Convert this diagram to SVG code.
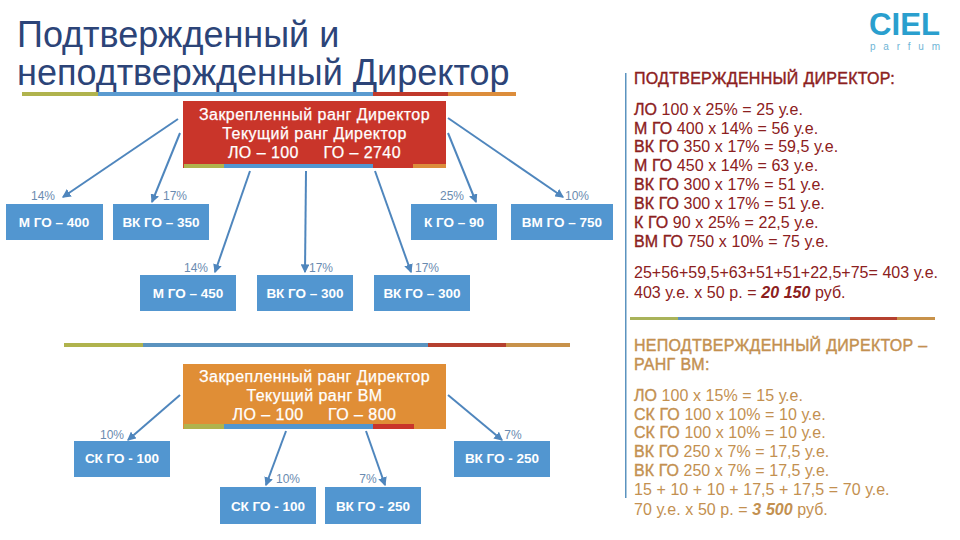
<svg xmlns="http://www.w3.org/2000/svg" width="960" height="540" viewBox="0 0 960 540">
<defs>
<marker id="ah" markerWidth="4.4" markerHeight="4.4" refX="3.8" refY="2.2" orient="auto" markerUnits="strokeWidth"><path d="M0 0L4.4 2.2L0 4.4Z" fill="#4f86bd"/></marker>
</defs>
<style>
text{font-family:"Liberation Sans",Arial,sans-serif}
.title{font-size:36px;fill:#2c4478}
.nb{fill:#5296d0}
.nt{font-size:13.5px;font-weight:bold;fill:#fff;text-anchor:middle}
.ht{font-size:16px;fill:#fff;text-anchor:middle;letter-spacing:.45px;stroke:#fff;stroke-width:.25px}
.p{font-size:12px;fill:#6a8bb0;text-anchor:middle}
.c line{stroke:#4f86bd;stroke-width:2;marker-end:url(#ah)}
.r{font-size:16px;fill:#8c2020;word-spacing:.2px}
.o{font-size:16px;fill:#c39050;word-spacing:.2px}
.h{letter-spacing:.25px;stroke-width:.4px}
.r.h{stroke:#8c2020}
.o.h{stroke:#c39050}
.r .b{stroke:#8c2020;stroke-width:.35px}
.o .b{stroke:#c39050;stroke-width:.35px}
</style>
<rect width="960" height="540" fill="#fff"/>
<g id="title">
<text class="title" x="17" y="47">Подтвержденный и</text>
<text class="title" x="17" y="85">неподтвержденный Директор</text>
<rect x="22" y="92" width="76" height="4" fill="#b0b34d"/><rect x="98" y="92" width="275" height="4" fill="#5b9bd0"/><rect x="373" y="92" width="75" height="4" fill="#c0392b"/><rect x="448" y="92" width="68" height="4" fill="#dc8d3b"/>
</g>
<g id="logo">
<text x="869" y="35" font-size="31" font-weight="bold" fill="#2a9fce" textLength="71" lengthAdjust="spacingAndGlyphs">CIEL</text>
<text x="870" y="50" font-size="10" fill="#6fb5d6" textLength="70">parfum</text>
</g>
<g id="connectors" class="c">
<line x1="178" y1="119" x2="63" y2="197"/>
<line x1="180" y1="133" x2="152" y2="202"/>
<line x1="250" y1="171" x2="215" y2="272"/>
<line x1="306" y1="171" x2="305" y2="272"/>
<line x1="375" y1="171" x2="411" y2="272"/>
<line x1="448" y1="133" x2="476" y2="202"/>
<line x1="448" y1="118" x2="563" y2="197"/>
<line x1="180" y1="395" x2="128" y2="440"/>
<line x1="448" y1="395" x2="502" y2="440"/>
<line x1="286" y1="431" x2="266" y2="485"/>
<line x1="366" y1="431" x2="385" y2="485"/>
</g>
<g id="top-node">
<rect x="183" y="101" width="263" height="67" fill="#c9352a"/>
<rect x="184" y="164" width="40" height="4" fill="#b0b34d"/><rect x="224" y="164" width="149" height="4" fill="#5296d0"/><rect x="413" y="164" width="33" height="4" fill="#dc8d3b"/>
<text class="ht" x="314.500" y="120">Закрепленный ранг Директор</text>
<text class="ht" x="314.500" y="139">Текущий ранг Директор</text>
<text class="ht" x="314.500" y="158">ЛО – 100&#160;&#160;&#160;&#160; ГО – 2740</text>
</g>
<g id="n1"><rect class="nb" x="6" y="204" width="97" height="36"/><text class="nt" x="54" y="227">М ГО – 400</text></g>
<g id="n2"><rect class="nb" x="113" y="204" width="96" height="36"/><text class="nt" x="161" y="227">ВК ГО – 350</text></g>
<g id="n3"><rect class="nb" x="411" y="204" width="86" height="36"/><text class="nt" x="454" y="227">К ГО – 90</text></g>
<g id="n4"><rect class="nb" x="511" y="204" width="102" height="36"/><text class="nt" x="562" y="227">ВМ ГО – 750</text></g>
<g id="n5"><rect class="nb" x="140" y="275" width="96" height="36"/><text class="nt" x="188" y="298">М ГО – 450</text></g>
<g id="n6"><rect class="nb" x="257" y="275" width="96" height="36"/><text class="nt" x="305" y="298">ВК ГО – 300</text></g>
<g id="n7"><rect class="nb" x="374" y="275" width="96" height="36"/><text class="nt" x="422" y="298">ВК ГО – 300</text></g>
<g id="pct1">
<text class="p" x="43" y="200">14%</text><text class="p" x="175" y="200">17%</text><text class="p" x="452" y="200">25%</text><text class="p" x="577" y="200">10%</text>
<text class="p" x="196" y="272">14%</text><text class="p" x="321" y="272">17%</text><text class="p" x="427" y="272">17%</text>
</g>
<g id="divider1"><rect x="64" y="343" width="79" height="4" fill="#b0b34d"/><rect x="143" y="343" width="285" height="4" fill="#5b93bf"/><rect x="428" y="343" width="78" height="4" fill="#b5402f"/><rect x="506" y="343" width="64" height="4" fill="#c8924a"/></g>
<g id="bottom-node">
<rect x="183" y="364" width="263" height="65" fill="#e08e36"/>
<rect x="184" y="424" width="40" height="5" fill="#b0b34d"/><rect x="224" y="424" width="149" height="5" fill="#5296d0"/><rect x="373" y="424" width="41" height="5" fill="#c9352a"/>
<text class="ht" x="314.500" y="382">Закрепленный ранг Директор</text>
<text class="ht" x="314.500" y="401">Текущий ранг ВМ</text>
<text class="ht" x="314.500" y="420">ЛО – 100&#160;&#160;&#160;&#160; ГО – 800</text>
</g>
<g id="m1"><rect class="nb" x="74" y="441" width="96" height="36"/><text class="nt" x="122" y="463">СК ГО - 100</text></g>
<g id="m2"><rect class="nb" x="454" y="441" width="96" height="36"/><text class="nt" x="502" y="463">ВК ГО - 250</text></g>
<g id="m3"><rect class="nb" x="220" y="487" width="96" height="37"/><text class="nt" x="268" y="511">СК ГО - 100</text></g>
<g id="m4"><rect class="nb" x="325" y="487" width="96" height="37"/><text class="nt" x="373" y="511">ВК ГО - 250</text></g>
<g id="pct2">
<text class="p" x="112" y="439">10%</text><text class="p" x="513" y="439">7%</text><text class="p" x="288" y="483">10%</text><text class="p" x="368" y="483">7%</text>
</g>
<g id="side-rule"><rect x="625" y="73" width="1.500" height="425" fill="#5b93bf"/></g>
<g id="divider2"><rect x="630" y="317" width="48" height="3" fill="#a9b35a"/><rect x="678" y="317" width="172" height="3" fill="#5b93bf"/><rect x="850" y="317" width="47" height="3" fill="#b5402f"/><rect x="897" y="317" width="38" height="3" fill="#c8924a"/></g>
<g id="right-text">
<text class="r h" x="634" y="84">ПОДТВЕРЖДЕННЫЙ ДИРЕКТОР:</text>
<text class="r" x="634" y="115"><tspan class="b">ЛО</tspan> 100 х 25% = 25 у.е.</text>
<text class="r" x="634" y="134"><tspan class="b">М ГО</tspan> 400 х 14% = 56 у.е.</text>
<text class="r" x="634" y="152"><tspan class="b">ВК ГО</tspan> 350 х 17% = 59,5 у.е.</text>
<text class="r" x="634" y="171"><tspan class="b">М ГО</tspan> 450 х 14% = 63 у.е.</text>
<text class="r" x="634" y="190"><tspan class="b">ВК ГО</tspan> 300 х 17% = 51 у.е.</text>
<text class="r" x="634" y="209"><tspan class="b">ВК ГО</tspan> 300 х 17% = 51 у.е.</text>
<text class="r" x="634" y="228"><tspan class="b">К ГО</tspan> 90 х 25% = 22,5 у.е.</text>
<text class="r" x="634" y="247"><tspan class="b">ВМ ГО</tspan> 750 х 10% = 75 у.е.</text>
<text class="r" x="634" y="278">25+56+59,5+63+51+51+22,5+75= 403 у.е.</text>
<text class="r" x="634" y="298">403 у.е. х 50 р. = <tspan font-weight="bold" font-style="italic">20 150</tspan> руб.</text>
<text class="o h" x="634" y="351">НЕПОДТВЕРЖДЕННЫЙ ДИРЕКТОР –</text>
<text class="o h" x="634" y="370">РАНГ ВМ:</text>
<text class="o" x="634" y="401"><tspan class="b">ЛО</tspan> 100 х 15% = 15 у.е.</text>
<text class="o" x="634" y="420"><tspan class="b">СК ГО</tspan> 100 х 10% = 10 у.е.</text>
<text class="o" x="634" y="438"><tspan class="b">СК ГО</tspan> 100 х 10% = 10 у.е.</text>
<text class="o" x="634" y="457"><tspan class="b">ВК ГО</tspan> 250 х 7% = 17,5 у.е.</text>
<text class="o" x="634" y="476"><tspan class="b">ВК ГО</tspan> 250 х 7% = 17,5 у.е.</text>
<text class="o" x="634" y="495">15 + 10 + 10 + 17,5 + 17,5 = 70 у.е.</text>
<text class="o" x="634" y="515">70 у.е. х 50 р. = <tspan font-weight="bold" font-style="italic">3 500</tspan> руб.</text>
</g>
</svg>
